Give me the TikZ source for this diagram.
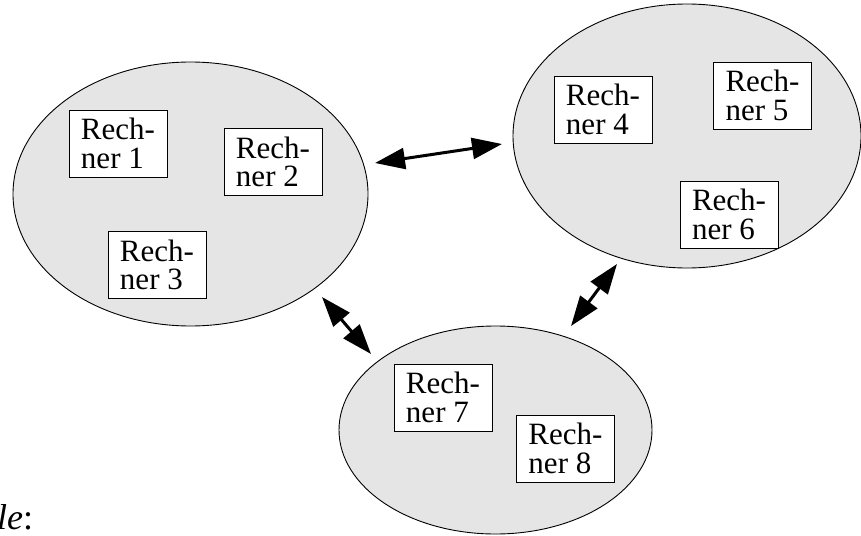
\documentclass[tikz,border=0pt]{standalone}
\usepackage{fontspec}
\setmainfont{Liberation Serif}
\usetikzlibrary{shapes.geometric,arrows.meta}
\tikzset{
  cluster/.style={ellipse,draw=black,line width=0.9pt,fill=gray!20,inner sep=0pt},
  rechner/.style={draw=black,line width=0.9pt,fill=white,minimum width=98pt,minimum height=67pt,
    inner sep=0pt,align=left,font=\fontsize{31}{28.5}\selectfont},
  link/.style={line width=3pt,{Triangle[length=30pt,width=21pt]}-{Triangle[length=30pt,width=21pt]}}
}
\begin{document}
\begin{tikzpicture}[x=1pt,y=-1pt]
\useasboundingbox (0,0) rectangle (861,535);
\begin{scope}
\clip (0,0) rectangle (861,535);
% clusters
\node[cluster,minimum width=355pt,minimum height=264pt] (e1) at (190.5,194) {};
\node[cluster,minimum width=348pt,minimum height=264pt] (e2) at (687,136) {};
\node[cluster,minimum width=313pt,minimum height=208pt] (e3) at (495.5,430) {};
% computers
\node[rechner] (r1) at (118,143.5) {Rech-\\ner 1};
\node[rechner] (r2) at (273,162) {Rech-\\ner 2};
\node[rechner] (r3) at (157,265) {Rech-\\ner 3};
\node[rechner] (r4) at (603,109.5) {Rech-\\ner 4};
\node[rechner] (r5) at (762.5,95.5) {Rech-\\ner 5};
\node[rechner] (r6) at (729,214.5) {Rech-\\ner 6};
\node[rechner] (r7) at (443,397.5) {Rech-\\ner 7};
\node[rechner] (r8) at (565.5,448.5) {Rech-\\ner 8};
% connector ends
\coordinate (a1) at (375,163);
\coordinate (a2) at (502,144);
\coordinate (b1) at (322,297);
\coordinate (b2) at (371,354);
\coordinate (c1) at (617,264);
\coordinate (c2) at (571,326);
\draw[link] (a1) -- (a2);
\draw[link] (b1) -- (b2);
\draw[link] (c1) -- (c2);
% label
\node[anchor=base west,inner sep=0pt,font=\fontsize{36}{36}\selectfont] (lbl) at (-3,529) {\textit{le}:};
\end{scope}
\end{tikzpicture}
\end{document}
